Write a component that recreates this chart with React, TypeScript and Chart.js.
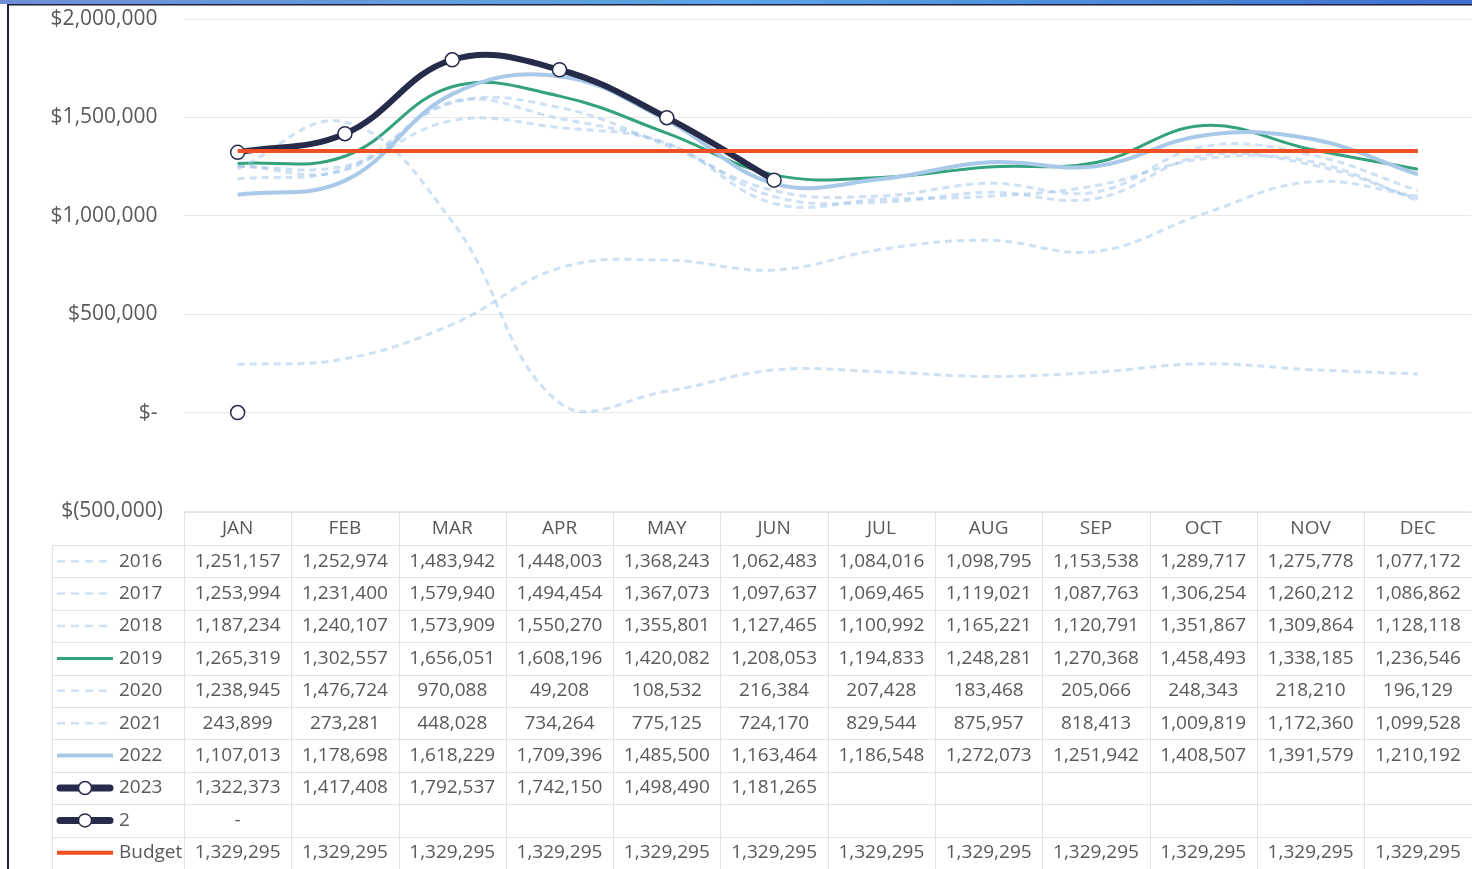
import React, { useEffect, useRef } from "react";
import { Chart, registerables } from "chart.js";

Chart.register(...registerables);

const MONTHS = ["JAN", "FEB", "MAR", "APR", "MAY", "JUN", "JUL", "AUG", "SEP", "OCT", "NOV", "DEC"];

const S2016 = [1251157, 1252974, 1483942, 1448003, 1368243, 1062483, 1084016, 1098795, 1153538, 1289717, 1275778, 1077172];
const S2017 = [1253994, 1231400, 1579940, 1494454, 1367073, 1097637, 1069465, 1119021, 1087763, 1306254, 1260212, 1086862];
const S2018 = [1187234, 1240107, 1573909, 1550270, 1355801, 1127465, 1100992, 1165221, 1120791, 1351867, 1309864, 1128118];
const S2019 = [1265319, 1302557, 1656051, 1608196, 1420082, 1208053, 1194833, 1248281, 1270368, 1458493, 1338185, 1236546];
const S2020 = [1238945, 1476724, 970088, 49208, 108532, 216384, 207428, 183468, 205066, 248343, 218210, 196129];
const S2021 = [243899, 273281, 448028, 734264, 775125, 724170, 829544, 875957, 818413, 1009819, 1172360, 1099528];
const S2022 = [1107013, 1178698, 1618229, 1709396, 1485500, 1163464, 1186548, 1272073, 1251942, 1408507, 1391579, 1210192];
const S2023 = [1322373, 1417408, 1792537, 1742150, 1498490, 1181265, null, null, null, null, null, null];
const S2 = [0, null, null, null, null, null, null, null, null, null, null, null];
const BUDGET = [1329295, 1329295, 1329295, 1329295, 1329295, 1329295, 1329295, 1329295, 1329295, 1329295, 1329295, 1329295];

const Y_MIN = -500000;
const Y_MAX = 2000000;
const Y_STEP = 500000;

const FONT = "'Open Sans', 'DejaVu Sans', sans-serif";
const TEXT = "#595959";
const NAVY = "#272B4A";
const TEAL = "#33A27D";
const LIGHT = "#A9C9E8";
const DASH = "rgba(158,195,233,0.5)";
const ORANGE = "#EF5023";
const TABLE_LINE = "#E4E4E4";

function fmtAxis(v: number): string {
  if (v === 0) return "$- ";
  if (v < 0) return "$(" + Math.abs(v).toLocaleString("en-US") + ")";
  return "$" + v.toLocaleString("en-US") + " ";
}

function dashed(label: string, data: (number | null)[]) {
  return {
    label,
    data,
    borderColor: DASH,
    borderWidth: 3,
    borderDash: [7, 5],
    pointRadius: 0,
    tension: 0.4,
    fill: false,
    keyType: "dash",
  };
}

function solid(label: string, data: (number | null)[], color: string, width: number) {
  return {
    label,
    data,
    borderColor: color,
    borderWidth: width,
    pointRadius: 0,
    tension: 0.4,
    fill: false,
    keyType: "solid",
  };
}

function marker(label: string, data: (number | null)[]) {
  return {
    label,
    data,
    borderColor: NAVY,
    borderWidth: 6,
    pointRadius: 7,
    pointBackgroundColor: "#ffffff",
    pointBorderColor: NAVY,
    pointBorderWidth: 1.5,
    tension: 0.4,
    fill: false,
    keyType: "marker",
  };
}

const framePlugin = {
  id: "frame",
  beforeDraw(chart: any) {
    const ctx = chart.ctx;
    ctx.save();
    ctx.fillStyle = "#ffffff";
    ctx.fillRect(0, 0, chart.width, chart.height);
    const g = ctx.createLinearGradient(0, 0, chart.width, 0);
    g.addColorStop(0, "#6f8fd6");
    g.addColorStop(0.5, "#5aa6e6");
    g.addColorStop(1, "#3f6fcf");
    ctx.fillStyle = g;
    ctx.fillRect(0, 0, chart.width, 4);
    ctx.fillStyle = "#1c2038";
    ctx.fillRect(8, 4, chart.width, 1.5);
    ctx.fillRect(7, 4, 2, chart.height);
    ctx.restore();
  },
};

const tablePlugin = {
  id: "dataTable",
  afterDraw(chart: any) {
    const ctx = chart.ctx;
    const area = chart.chartArea;
    const xs = chart.scales.x;
    const n = MONTHS.length;
    const colW = (area.right - area.left) / n;
    const left = area.left;
    const right = chart.width;
    const headTop = area.bottom + 1;
    const headH = 33;
    const rowH = 32.4;
    const rowsTop = headTop + headH;
    const datasets = chart.data.datasets;
    const bottom = rowsTop + rowH * datasets.length;
    const legendLeft = 52;

    ctx.save();
    ctx.strokeStyle = TABLE_LINE;
    ctx.lineWidth = 1;
    const hl = (x1: number, y: number, x2: number) => {
      ctx.beginPath();
      ctx.moveTo(x1, Math.round(y) + 0.5);
      ctx.lineTo(x2, Math.round(y) + 0.5);
      ctx.stroke();
    };
    const vl = (x: number, y1: number, y2: number) => {
      ctx.beginPath();
      ctx.moveTo(Math.round(x) + 0.5, y1);
      ctx.lineTo(Math.round(x) + 0.5, y2);
      ctx.stroke();
    };
    hl(left, headTop, right);
    for (let r = 0; r <= datasets.length; r++) hl(legendLeft, rowsTop + r * rowH, right);
    for (let i = 0; i <= n; i++) vl(left + i * colW, headTop, bottom);
    vl(legendLeft, rowsTop, bottom);

    ctx.font = `19px ${FONT}`;
    ctx.fillStyle = TEXT;
    ctx.textBaseline = "middle";
    ctx.textAlign = "center";
    MONTHS.forEach((m, i) => ctx.fillText(m, xs.getPixelForValue(i), headTop + headH / 2));

    datasets.forEach((ds: any, r: number) => {
      const cy = rowsTop + r * rowH + rowH / 2;
      const k1 = 57;
      const k2 = 113;
      ctx.save();
      ctx.lineCap = "butt";
      if (ds.keyType === "dash") {
        ctx.strokeStyle = DASH;
        ctx.lineWidth = 2.5;
        ctx.setLineDash([8, 6]);
        ctx.beginPath();
        ctx.moveTo(k1, cy);
        ctx.lineTo(k2, cy);
        ctx.stroke();
      } else if (ds.keyType === "solid") {
        ctx.strokeStyle = ds.borderColor;
        ctx.lineWidth = ds.borderWidth;
        ctx.beginPath();
        ctx.moveTo(k1, cy);
        ctx.lineTo(k2, cy);
        ctx.stroke();
      } else {
        ctx.strokeStyle = NAVY;
        ctx.lineWidth = 7;
        ctx.lineCap = "round";
        ctx.beginPath();
        ctx.moveTo(k1 + 3, cy);
        ctx.lineTo(k2 - 3, cy);
        ctx.stroke();
        ctx.beginPath();
        ctx.arc((k1 + k2) / 2, cy, 6.5, 0, Math.PI * 2);
        ctx.fillStyle = "#ffffff";
        ctx.fill();
        ctx.lineWidth = 1.5;
        ctx.stroke();
      }
      ctx.restore();

      ctx.fillStyle = TEXT;
      ctx.textAlign = "left";
      ctx.fillText(ds.label, 119, cy);
      ctx.textAlign = "center";
      ds.data.forEach((v: number | null, i: number) => {
        if (v === null || v === undefined) return;
        ctx.fillText(v === 0 ? "-" : v.toLocaleString("en-US"), xs.getPixelForValue(i), cy);
      });
    });
    ctx.restore();
  },
};

export default function App() {
  const ref = useRef<HTMLCanvasElement>(null);

  useEffect(() => {
    const canvas = ref.current;
    if (!canvas) return;
    const datasets: any[] = [
      dashed("2016", S2016),
      dashed("2017", S2017),
      dashed("2018", S2018),
      solid("2019", S2019, TEAL, 3),
      dashed("2020", S2020),
      dashed("2021", S2021),
      solid("2022", S2022, LIGHT, 4),
      marker("2023", S2023),
      marker("2", S2),
      { ...solid("Budget", BUDGET, ORANGE, 4), tension: 0 },
    ];
    datasets.forEach((d, i) => (d.order = datasets.length - i));

    const chart = new Chart(canvas, {
      type: "line",
      data: { labels: MONTHS, datasets },
      options: {
        responsive: false,
        animation: false,
        devicePixelRatio: 1,
        layout: { padding: { top: 19, bottom: 358, left: 0, right: 4 } },
        plugins: { legend: { display: false }, tooltip: { enabled: false } },
        scales: {
          x: {
            type: "category",
            offset: true,
            display: false,
            grid: { display: false },
            afterFit: (s: any) => {
              s.height = 0;
              s.paddingLeft = 0;
              s.paddingRight = 0;
            },
          },
          y: {
            min: Y_MIN,
            max: Y_MAX,
            ticks: {
              stepSize: Y_STEP,
              padding: 21,
              color: TEXT,
              font: { family: FONT, size: 21 },
              callback: (v: any) => fmtAxis(Number(v)),
            },
            grid: { color: "#E8E8E8", drawTicks: false, lineWidth: 1 },
            border: { display: false },
            afterFit: (s: any) => {
              s.width = 184;
              s.paddingTop = 0;
              s.paddingBottom = 0;
            },
          },
        },
      },
      plugins: [framePlugin, tablePlugin],
    } as any);

    if ((document as any).fonts && (document as any).fonts.ready) {
      (document as any).fonts.ready.then(() => chart.update());
    }
    return () => chart.destroy();
  }, []);

  return (
    <div
      style={{
        position: "fixed",
        left: 0,
        top: 0,
        width: 1472,
        height: 869,
        overflow: "hidden",
        background: "#ffffff",
      }}
    >
      <canvas ref={ref} width={1480} height={869} style={{ display: "block", width: 1480, height: 869 }} />
    </div>
  );
}
